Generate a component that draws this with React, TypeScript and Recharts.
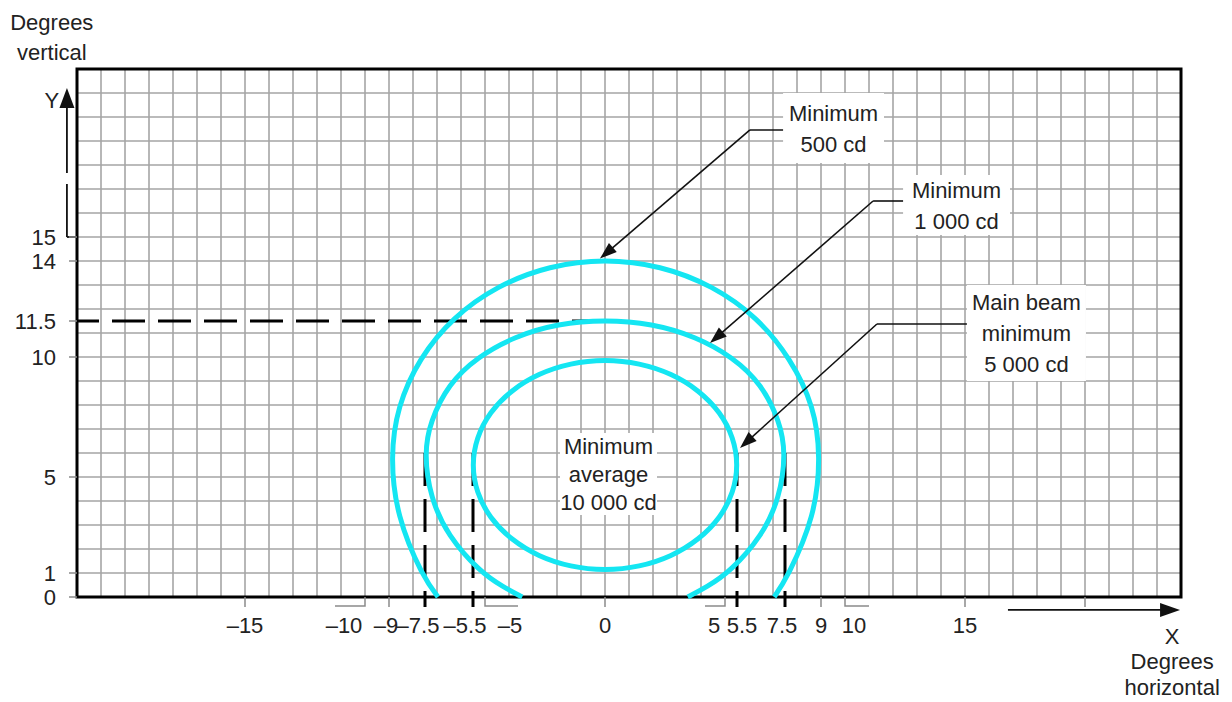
import { CartesianGrid, ComposedChart, Line, ReferenceArea, ReferenceLine, XAxis, YAxis } from "recharts";

const W = 1232;
const H = 702;
const CYAN = "#14e6f2";
const INK = "#222";
const GRID = "#a5a5a5";
const TICK = "#8a8a8a";
const FS = 22;

type Pt = { x: number; y: number };
const pts = (a: number[][]): Pt[] => a.map(([x, y]) => ({ x, y }));

// isocandela contours (degrees)
const outer500 = pts([
  [-6.96, 0], [-7.66, 1.1], [-8.55, 3.37], [-8.85, 5.8], [-8.55, 7.92], [-7.66, 9.9],
  [-6.26, 11.6], [-4.43, 12.9], [-2.29, 13.72], [0, 14], [2.29, 13.72], [4.43, 12.9],
  [6.26, 11.6], [7.66, 9.9], [8.6, 7.92], [8.9, 5.8], [8.6, 3.37], [7.7, 1.1], [7.05, 0],
]);

const middle1000 = pts([
  [-3.45, 0], [-4.27, 0.45], [-5.27, 1.19], [-6.45, 2.57], [-7.2, 4.18], [-7.45, 5.9],
  [-7.2, 7.35], [-6.45, 8.8], [-5.27, 9.95], [-3.73, 10.8], [-1.93, 11.33], [0, 11.5],
  [1.93, 11.33], [3.73, 10.8], [5.27, 9.95], [6.45, 8.8], [7.2, 7.35], [7.45, 5.9],
  [7.2, 4.18], [6.45, 2.57], [5.27, 1.19], [4.27, 0.45], [3.45, 0],
]);

const inner5000 = pts([
  [0, 1.1], [1.44, 1.25], [2.78, 1.69], [3.92, 2.39], [4.81, 3.3], [5.36, 4.36],
  [5.55, 5.5], [5.36, 6.64], [4.81, 7.7], [3.92, 8.61], [2.78, 9.31], [1.44, 9.75],
  [0, 9.9], [-1.44, 9.75], [-2.78, 9.31], [-3.92, 8.61], [-4.81, 7.7], [-5.36, 6.64],
  [-5.55, 5.5], [-5.36, 4.36], [-4.81, 3.3], [-3.92, 2.39], [-2.78, 1.69], [-1.44, 1.25],
]);

const xDomain = [-22, 24];
const yDomain = [0, 22];
const gridX = Array.from({ length: 45 }, (_, i) => i - 21);
const gridY = Array.from({ length: 21 }, (_, i) => i + 1);

const xTicks = [-15, -10, -9, -7.5, -5.5, -5, 0, 5, 5.5, 7.5, 9, 10, 15, 20];
const xTickText = ["–15", "–10", "–9", "–7.5", "–5.5", "–5", "0", "5", "5.5", "7.5", "9", "10", "15", ""];
const yTicks = [0, 1, 5, 10, 11.5, 14, 15];
const yTickText = ["0", "1", "5", "10", "11.5", "14", "15"];

const limitX = [-7.5, -5.5, 5.5, 7.5];
const limitTop = 6;
const cutoffY = 11.5;

// dashed guide lines, as two-point series
const cutoffLine = pts([[0, cutoffY], [xDomain[0], cutoffY]]);
const limitLines = limitX.map((lx) => pts([[lx, limitTop], [lx, 0]]));

// label nudges and little leader brackets under the x axis (px)
const labelShift: Record<string, number> = { "-10": -21, "-9": -3, "-7.5": -7, "-5.5": -8, "-5": 25, "5": -11, "5.5": 5, "7.5": -3, "10": 9 };
const bracket: Record<string, number> = { "-10": -30, "-5": 33, "5": -20, "10": 24 };

const callouts = [
  { lines: ["Minimum", "500 cd"], box: [7.42, 11.625, 18.08, 21], elbow: [6.04, 19.46], tip: [-0.21, 14.1] },
  { lines: ["Minimum", "1 000 cd"], box: [12.42, 16.875, 15.08, 17.58], elbow: [11.17, 16.5], tip: [4.375, 10.58] },
  { lines: ["Main beam", "minimum", "5 000 cd"], box: [15.08, 20.04, 9, 13], elbow: [11.33, 11.375], tip: [5.625, 6.21] },
];

function noteLabel(lines: string[], lh: number) {
  return (p: any) => {
    const { x, y, width, height } = p.viewBox;
    const cx = x + width / 2;
    const top = y + height / 2 - ((lines.length - 1) * lh) / 2;
    return (
      <text textAnchor="middle" fill={INK} fontSize={FS}>
        {lines.map((l, i) => (
          <tspan key={i} x={cx} y={top + i * lh + 8}>
            {l}
          </tspan>
        ))}
      </text>
    );
  };
}

function arrowShape(head: boolean, w = 1.6, hl = 17, hw = 6) {
  return (p: any) => {
    const { x1, y1, x2, y2 } = p;
    if (!head) return <line x1={x1} y1={y1} x2={x2} y2={y2} stroke="#111" strokeWidth={w} />;
    const len = Math.hypot(x2 - x1, y2 - y1) || 1;
    const ux = (x2 - x1) / len;
    const uy = (y2 - y1) / len;
    const bx = x2 - ux * hl;
    const by = y2 - uy * hl;
    return (
      <g>
        <line x1={x1} y1={y1} x2={bx + ux * 2} y2={by + uy * 2} stroke="#111" strokeWidth={w} />
        <polygon points={`${x2},${y2} ${bx - uy * hw},${by + ux * hw} ${bx + uy * hw},${by - ux * hw}`} fill="#111" />
      </g>
    );
  };
}

function XTick(props: any) {
  const { x, y, payload } = props;
  const v = payload.value;
  const text = xTickText[xTicks.indexOf(v)];
  const key = String(v);
  const br = bracket[key];
  let mark;
  if (limitX.includes(v)) {
    mark = <line x1={x} x2={x} y1={y} y2={y + 10} stroke="#000" strokeWidth={3} />;
  } else if (br !== undefined) {
    mark = <polyline points={`${x},${y} ${x},${y + 9} ${x + br},${y + 9}`} fill="none" stroke={TICK} strokeWidth={1.5} />;
  } else {
    mark = <line x1={x} x2={x} y1={y} y2={y + 10} stroke={TICK} strokeWidth={1.5} />;
  }
  return (
    <g>
      {mark}
      {text && (
        <text x={x + (labelShift[key] ?? 0)} y={y + 36} textAnchor="middle" fill={INK} fontSize={FS}>
          {text}
        </text>
      )}
    </g>
  );
}

function YTick(props: any) {
  const { x, y, payload } = props;
  const text = yTickText[yTicks.indexOf(payload.value)];
  return (
    <g>
      <line x1={x - 8} x2={x} y1={y} y2={y} stroke={TICK} strokeWidth={1.5} />
      <text x={x - 21} y={y + 8} textAnchor="end" fill={INK} fontSize={FS}>
        {text}
      </text>
    </g>
  );
}

export default function App() {
  return (
    <div style={{ position: "absolute", left: 0, top: 0, width: W, height: H, background: "#fff", fontFamily: "'Liberation Sans', Arial, sans-serif" }}>
      <ComposedChart width={W} height={H} margin={{ top: 69, right: 51, bottom: 65, left: 0 }}>
        <CartesianGrid stroke={GRID} strokeWidth={1.6} verticalValues={gridX} horizontalValues={gridY} />
        <XAxis
          dataKey="x"
          type="number"
          domain={xDomain}
          ticks={xTicks}
          interval={0}
          height={40}
          tickSize={0}
          tickMargin={0}
          axisLine={false}
          tickLine={false}
          tick={<XTick />}
        />
        <YAxis
          type="number"
          domain={yDomain}
          ticks={yTicks}
          interval={0}
          width={77}
          tickSize={0}
          tickMargin={0}
          axisLine={false}
          tickLine={false}
          tick={<YTick />}
        />
        <ReferenceArea x1={xDomain[0]} x2={xDomain[1]} y1={yDomain[0]} y2={yDomain[1]} fill="none" stroke="#000" strokeWidth={3} ifOverflow="visible" />

        {/* dashed limit lines, under the contours */}
        <Line data={cutoffLine} dataKey="y" type="linear" stroke="#000" strokeWidth={3} strokeDasharray="33 13" dot={false} activeDot={false} isAnimationActive={false} />
        {limitLines.map((d, i) => (
          <Line key={i} data={d} dataKey="y" type="linear" stroke="#000" strokeWidth={3} strokeDasharray="33 13" dot={false} activeDot={false} isAnimationActive={false} />
        ))}

        <Line data={outer500} dataKey="y" type="natural" stroke={CYAN} strokeWidth={5} dot={false} activeDot={false} isAnimationActive={false} />
        <Line data={middle1000} dataKey="y" type="natural" stroke={CYAN} strokeWidth={5} dot={false} activeDot={false} isAnimationActive={false} />
        <Line data={inner5000} dataKey="y" type="basisClosed" stroke={CYAN} strokeWidth={5} dot={false} activeDot={false} isAnimationActive={false} />

        {/* notes */}
        <ReferenceArea x1={-1.875} x2={2.167} y1={3.42} y2={6.83} fill="#fff" fillOpacity={1} stroke="none" label={noteLabel(["Minimum", "average", "10 000 cd"], 28)} />
        {callouts.map((c) => (
          <ReferenceArea
            key={c.lines.join()}
            x1={c.box[0]}
            x2={c.box[1]}
            y1={c.box[2]}
            y2={c.box[3]}
            fill="#fff"
            fillOpacity={1}
            stroke="none"
            label={noteLabel(c.lines, 31)}
          />
        ))}
        {callouts.map((c) => (
          <ReferenceLine key={"h" + c.lines.join()} segment={[{ x: c.box[0], y: c.elbow[1] }, { x: c.elbow[0], y: c.elbow[1] }]} shape={arrowShape(false)} />
        ))}
        {callouts.map((c) => (
          <ReferenceLine key={"d" + c.lines.join()} segment={[{ x: c.elbow[0], y: c.elbow[1] }, { x: c.tip[0], y: c.tip[1] }]} shape={arrowShape(true)} />
        ))}

        {/* axis arrows and titles */}
        <ReferenceLine ifOverflow="visible" segment={[{ x: -22, y: 15 }, { x: -22.42, y: 15 }]} shape={arrowShape(false, 1.8)} />
        <ReferenceLine ifOverflow="visible" segment={[{ x: -22.42, y: 15 }, { x: -22.42, y: 17.21 }]} shape={arrowShape(false, 1.8)} />
        <ReferenceLine ifOverflow="visible" segment={[{ x: -22.42, y: 17.67 }, { x: -22.42, y: 21.21 }]} shape={arrowShape(true, 1.8, 20, 7.5)} />
        <ReferenceLine ifOverflow="visible" segment={[{ x: 16.79, y: -0.54 }, { x: 23.96, y: -0.54 }]} shape={arrowShape(true, 1.8, 20, 7)} />

        <ReferenceArea ifOverflow="visible" x1={-23.5} x2={-22.6} y1={20.3} y2={21.1} fill="none" stroke="none" label={noteLabel(["Y"], 30)} />
        <ReferenceArea ifOverflow="visible" x1={-24.5} x2={-21.6} y1={22.6} y2={24.1} fill="none" stroke="none" label={noteLabel(["Degrees", "vertical"], 30)} />
        <ReferenceArea ifOverflow="visible" x1={22.6} x2={24.66} y1={-3.6} y2={-1.74} fill="none" stroke="none" label={noteLabel(["X", "Degrees", "horizontal"], 25.5)} />
      </ComposedChart>
    </div>
  );
}
